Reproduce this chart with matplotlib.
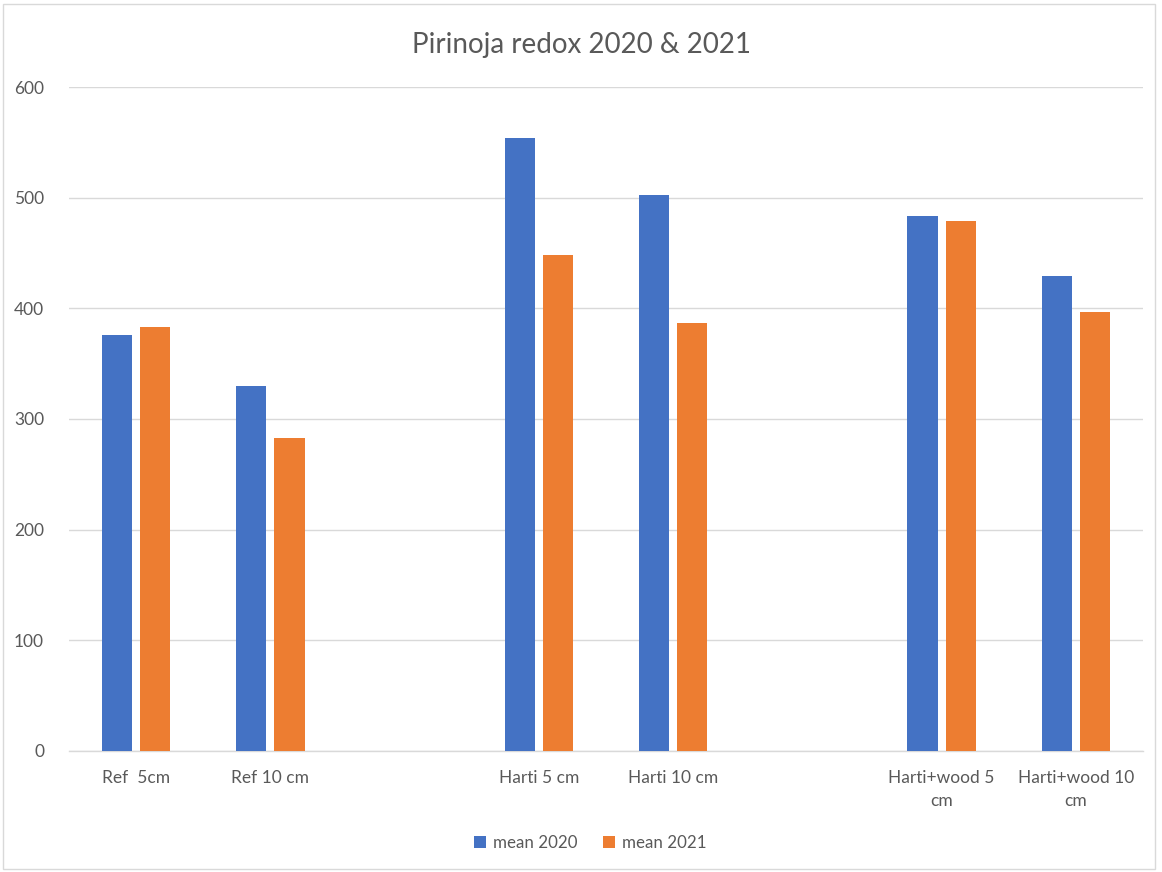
import matplotlib.pyplot as plt
import numpy as np
from matplotlib.patches import Rectangle

plt.rcParams['font.family'] = ['Lato', 'DejaVu Sans']

categories = ["Ref  5cm", "Ref 10 cm", "", "Harti 5 cm", "Harti 10 cm", "",
              "Harti+wood 5\ncm", "Harti+wood 10\ncm"]
mean_2020 = [376, 330, np.nan, 554, 502, np.nan, 483, 429]
mean_2021 = [383, 283, np.nan, 448, 387, np.nan, 479, 397]
yticks = [0, 100, 200, 300, 400, 500, 600]

fig = plt.figure(figsize=(11.62, 8.72), dpi=100)
ax = fig.add_axes([0.0594, 0.1388, 0.9242, 0.7614])

x = np.arange(len(categories))
w = 0.225
ax.bar(x - 0.142, mean_2020, w, color='#4472C4', label='mean 2020', zorder=3)
ax.bar(x + 0.142, mean_2021, w, color='#ED7D31', label='mean 2021', zorder=3)

ax.set_xlim(-0.5, len(categories) - 0.5)
ax.set_ylim(0, 600)
ax.set_yticks(yticks)
ax.set_xticks(x)
ax.set_xticklabels(categories, linespacing=1.5)
ax.tick_params(axis='both', length=0, labelsize=12.5, colors='#595959')
ax.tick_params(axis='x', pad=14)
ax.tick_params(axis='y', pad=18)
ax.grid(axis='y', color='#D9D9D9', linewidth=1, zorder=0)
for s in ['top', 'right', 'left']:
    ax.spines[s].set_visible(False)
ax.spines['bottom'].set_color('#D9D9D9')
ax.spines['bottom'].set_linewidth(1)

fig.text(0.5, 0.948, 'Pirinoja redox 2020 & 2021', ha='center', va='center',
         fontsize=20, color='#595959')

fig.legend(loc='center', bbox_to_anchor=(0.508, 0.033), ncol=2, frameon=False,
           fontsize=12.2, labelcolor='#595959', handlelength=0.7, handleheight=0.7,
           handletextpad=0.4, columnspacing=1.5)

fig.patches.append(Rectangle((0.003, 0.004), 0.991, 0.991, transform=fig.transFigure,
                             fill=False, edgecolor='#D9D9D9', linewidth=1))

fig.savefig('out.png', dpi=100)
